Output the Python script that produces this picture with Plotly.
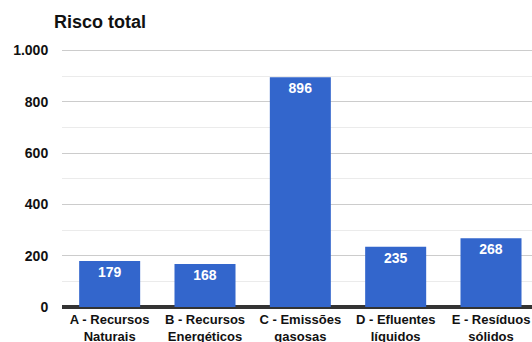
import plotly.graph_objects as go

categories = ["A - Recursos<br>Naturais", "B - Recursos<br>Energéticos", "C - Emissões<br>gasosas",
              "D - Efluentes<br>líquidos", "E - Resíduos<br>sólidos"]
values = [179, 168, 896, 235, 268]
title = "Risco total"

fig = go.Figure(go.Bar(
    x=list(range(len(categories))), y=values, width=0.64,
    marker=dict(color="#3366cc", line=dict(width=0)),
    text=[str(v) for v in values], textposition="inside", insidetextanchor="end",
    textfont=dict(color="white", size=14, family="Liberation Sans", weight="bold"),
    textangle=0,
))

fig.update_layout(
    width=532, height=342,
    margin=dict(l=62, r=0, t=48, b=35, autoexpand=False),
    paper_bgcolor="white", plot_bgcolor="white",
    separators=",.",
    showlegend=False,
    font=dict(family="Liberation Sans", color="#222"),
    title=dict(text=title, x=54/532, xref="container", xanchor="left",
               y=1-22/342, yref="container", yanchor="middle",
               font=dict(size=18, color="#111", weight="bold")),
    xaxis=dict(range=[-0.5, 4.43], tickmode="array", tickvals=list(range(len(categories))),
               ticktext=categories, showgrid=False, zeroline=False, showline=False,
               ticks="", ticklabelstandoff=3, automargin=False,
               tickfont=dict(size=13, color="#111", weight="bold")),
    yaxis=dict(range=[0, 1010], tickvals=[0, 200, 400, 600, 800, 1000], tickformat=",",
               showgrid=True, gridcolor="#cccccc", automargin=False,
               gridwidth=1, zeroline=True, zerolinecolor="#333333", zerolinewidth=4,
               ticks="outside", ticklen=10, tickcolor="rgba(0,0,0,0)",
               tickfont=dict(size=14, color="#111", weight="bold"),
               minor=dict(tickvals=[100, 300, 500, 700, 900], showgrid=True,
                          gridcolor="#ebebeb", gridwidth=1)),
)

fig.write_html("out.html")
